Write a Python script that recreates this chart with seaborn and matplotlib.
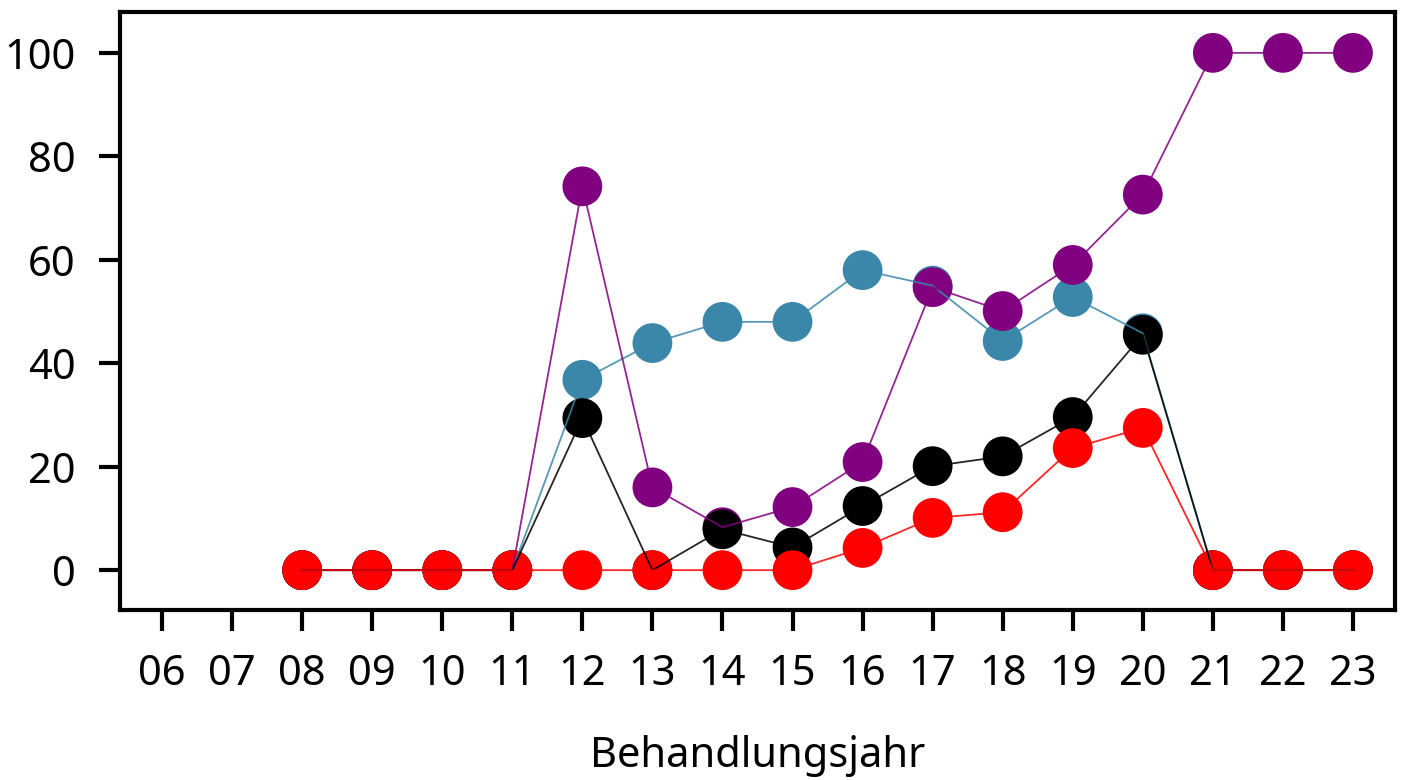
import numpy as np
import pandas as pd
import matplotlib
matplotlib.use("Agg")
import matplotlib.pyplot as plt
import seaborn as sns

# Behandlungsjahre (two-digit labels) and the four series, in percent
years = list(range(6, 24))
year_labels = [f"{y:02d}" for y in years]

nan = np.nan
purple_vals = [nan, nan, 0, 0, 0, 0, 74.2, 16.0, 8.3, 12.2, 20.9, 54.7, 50.1, 59.0, 72.6, 100, 100, 100]
blue_vals = [nan, nan, 0, 0, 0, 0, 36.8, 43.9, 48.0, 48.0, 58.0, 55.0, 44.3, 52.8, 45.8, 0, 0, 0]
black_vals = [nan, nan, 0, 0, 0, 0, 29.4, 0, 7.9, 4.4, 12.4, 20.1, 22.0, 29.6, 45.5, 0, 0, 0]
red_vals = [nan, nan, 0, 0, 0, 0, 0, 0, 0, 0, 4.3, 10.1, 11.2, 23.6, 27.5, 0, 0, 0]

series_order = ["blau", "lila", "schwarz", "rot"]
palette = {"blau": "#3b87aa", "lila": "#800080", "schwarz": "#000000", "rot": "#ff0000"}
values = {"blau": blue_vals, "lila": purple_vals, "schwarz": black_vals, "rot": red_vals}

frames = []
for name in series_order:
    frames.append(pd.DataFrame({"Jahr": years, "Wert": values[name], "Reihe": name}))
df = pd.concat(frames, ignore_index=True).dropna()

sns.set_theme(style="white")
plt.rcParams["font.family"] = ["Noto Sans", "DejaVu Sans"]
plt.rcParams["text.color"] = "black"
plt.rcParams["axes.labelcolor"] = "black"

fig = plt.figure(figsize=(14.04, 7.8), dpi=100)
ax = fig.add_axes([120 / 1404, 1 - 610 / 780, (1395 - 120) / 1404, (610 - 12) / 780])

# markers first, thin connecting lines drawn over them
sns.scatterplot(data=df, x="Jahr", y="Wert", hue="Reihe", palette=palette,
                s=820, linewidth=0, legend=False, ax=ax, zorder=2)
for name in series_order:
    sub = df[df["Reihe"] == name]
    sns.lineplot(data=sub, x="Jahr", y="Wert", color=palette[name], lw=1.3,
                 alpha=0.85, sort=False, legend=False, ax=ax, zorder=3)

ax.set_xlim(years[0] - 0.6, years[-1] + 0.6)
ax.set_ylim(-7.7, 107.9)
ax.set_xticks(years)
ax.set_xticklabels(year_labels)
ax.set_yticks([0, 20, 40, 60, 80, 100])
ax.set_ylabel("")
ax.set_xlabel("Behandlungsjahr", fontsize=30, labelpad=29, color="black")

for side in ["left", "right", "top", "bottom"]:
    ax.spines[side].set_visible(True)
    ax.spines[side].set_color("black")
    ax.spines[side].set_linewidth(3)
ax.tick_params(axis="both", which="major", direction="out", length=15, width=3,
               color="black", labelsize=30, labelcolor="black",
               bottom=True, left=True, top=False, right=False)
ax.tick_params(axis="x", pad=16)
ax.tick_params(axis="y", pad=17)
ax.grid(False)

fig.savefig("out.png", dpi=100, facecolor="white")
